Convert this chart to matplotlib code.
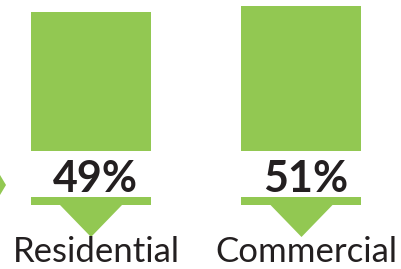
import matplotlib
matplotlib.use('Agg')
from matplotlib import pyplot as plt
from matplotlib.patches import Polygon, Rectangle

# data
categories = ['Residential', 'Commercial']
shares = [49, 51]
share_labels = ['49%', '51%']

green = '#92C852'
ink = '#231F20'

W, H = 402, 269
fig = plt.figure(figsize=(W / 100, H / 100), dpi=100)

# bar axes: value 0 sits at pixel row 151, 51% reaches ~row 6
bar_ax = fig.add_axes([0, (H - 151) / H, 1, 151 / H])
px_per_cat = 210.5
x0 = 91
bar_ax.bar(range(len(categories)), shares, width=120 / px_per_cat, color=green)
bar_ax.set_xlim(-x0 / px_per_cat, (W - x0) / px_per_cat)
bar_ax.set_ylim(0, 151 / 2.84)
bar_ax.axis('off')

# decoration axes in pixel coordinates
ax = fig.add_axes([0, 0, 1, 1], zorder=2)
ax.set_xlim(0, W)
ax.set_ylim(H, 0)
ax.axis('off')
ax.patch.set_alpha(0)

for i, (name, lab) in enumerate(zip(categories, share_labels)):
    cx = x0 + i * px_per_cat
    ax.add_patch(Rectangle((cx - 60, 197), 120, 8, color=green, lw=0))
    ax.add_patch(Polygon([(cx - 31, 205), (cx + 31, 205), (cx, 237)],
                         closed=True, color=green, lw=0))
    ax.text(cx + 4, 179, lab, ha='center', va='center', fontsize=31,
            fontweight='bold', color=ink, family='Lato')
    ax.text(cx + 5, 252, name, ha='center', va='center', fontsize=25,
            color=ink, family='Lato')

# small arrow tip on the left edge
ax.add_patch(Polygon([(0, 175), (6, 185), (0, 195)], closed=True, color=green, lw=0))

plt.savefig('out.png', dpi=100)
